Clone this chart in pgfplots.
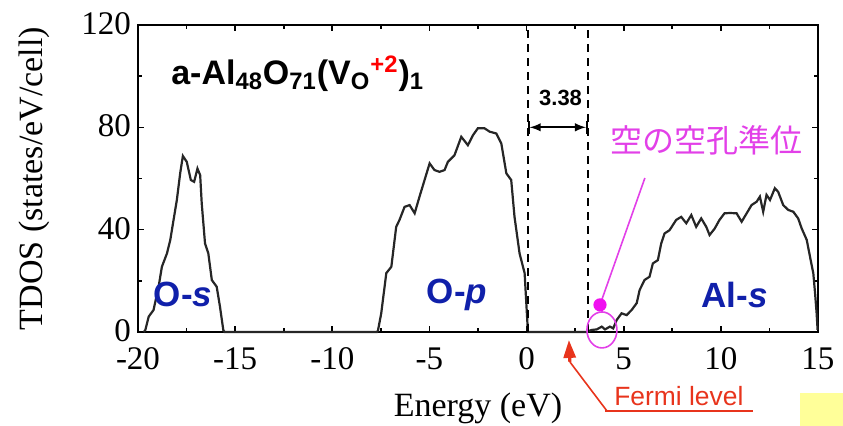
\documentclass[border=0pt]{standalone}
\usepackage{pgfplots}
\pgfplotsset{compat=1.18}
\usepackage{fontspec}
\setmainfont{Liberation Serif}
\setsansfont{Liberation Sans}
\newfontfamily\cjk{Noto Sans CJK JP}
\usetikzlibrary{arrows.meta}
\definecolor{lblblue}{RGB}{16,32,170}
\definecolor{pinkish}{RGB}{226,64,232}
\definecolor{dotpink}{RGB}{240,16,240}
\definecolor{fermired}{RGB}{232,52,28}
\definecolor{paleyellow}{RGB}{255,255,153}
\begin{document}
\begin{tikzpicture}
\useasboundingbox (0,0) rectangle (421.5pt,213pt);
\begin{axis}[
  at={(69pt,47pt)}, anchor=south west,
  scale only axis, width=340pt, height=153.5pt,
  xmin=-20, xmax=15, ymin=0, ymax=120,
  xtick={-20,-15,...,15}, ytick={0,40,80,120},
  minor x tick num=1, minor y tick num=1,
  major tick length=3pt, minor tick length=2pt,
  tick style={black, line width=0.8pt},
  axis line style={line width=1pt},
  clip=false,
  /pgf/number format/assume math mode=true,
  tick label style={font=\fontsize{16.5}{18}\selectfont},
  x tick label style={yshift=-4.2pt},
  y tick label style={yshift=0.6pt},
  xlabel={Energy (eV)}, ylabel={TDOS (states/eV/cell)},
  label style={font=\fontsize{17}{19}\selectfont},
  xlabel style={at={(axis description cs:0.5,-0.2476)}, anchor=center},
  ylabel style={at={(axis description cs:-0.153,0.5)}, anchor=center},
]
\fill[paleyellow] (axis cs:14.07,-23.8) rectangle (axis cs:16.8,-40);
\addplot[line width=1.1pt, color=black!85] coordinates {
(-19.7,0) (-19.62,0.8) (-19.45,6) (-19.2,8.6) (-18.94,17.7) (-18.77,25.5)
(-18.51,30.7) (-18.34,35.9) (-18.17,43.8) (-18.0,51.6) (-17.83,62) (-17.69,68.8)
(-17.49,66.5) (-17.28,59.4) (-17.11,58.7) (-16.94,63.9) (-16.8,61.3) (-16.72,50.3)
(-16.55,34.6) (-16.38,30.7) (-16.2,20.3) (-15.95,17.7) (-15.78,9.9) (-15.61,0.8)
(-15.55,0) (-7.7,0)
(-7.65,0.5) (-7.48,7.3) (-7.22,23) (-6.96,25.5) (-6.71,41.1) (-6.54,43.8)
(-6.28,48.9) (-6.02,49.6) (-5.76,46.4) (-5.51,52.9) (-5.25,59.4) (-4.99,65.9)
(-4.74,63.3) (-4.48,62.6) (-4.22,63.3) (-4.05,66.5) (-3.71,69.1) (-3.36,76.3)
(-3.02,73) (-2.76,76.9) (-2.51,79.6) (-2.16,79.6) (-1.9,78.3) (-1.56,77.6)
(-1.3,73.7) (-1.04,62) (-0.79,59.4) (-0.62,45) (-0.36,30.7) (-0.1,23) (0.07,0)
(3.05,0)
(3.09,0.1) (3.35,0.8) (3.61,1.0) (3.87,2.1) (4.04,1.0) (4.29,2.1) (4.46,1.4)
(4.64,4.7) (4.89,7.3) (5.15,6.6) (5.41,8.6) (5.67,11.3)
(5.82,16.4) (6.07,20.3) (6.33,21.6) (6.5,26.8) (6.76,28.1) (6.93,34.6)
(7.1,38.5) (7.36,39.8) (7.7,43.8) (7.96,45) (8.22,42.5) (8.48,45.7)
(8.73,41.1) (8.99,44.4) (9.25,41.1) (9.42,37.9) (9.68,40.4) (9.93,43.8)
(10.19,46.4) (10.47,46.5) (10.81,46.4) (11.07,43.1) (11.33,46.4) (11.58,49.6)
(11.84,50.9) (12.01,52.9) (12.18,47) (12.35,53.6) (12.53,51.6) (12.78,56.2)
(12.95,54.8) (13.21,49.6) (13.47,47.7) (13.73,47) (13.98,44.4) (14.16,40.5)
(14.42,36) (14.59,29.4) (14.76,22.9) (14.85,15.1) (14.93,7.3) (14.98,0.8)
};
% band gap markers
\draw[line width=1pt, dash pattern=on 4pt off 3pt] (axis cs:0.07,0) -- (axis cs:0.07,120);
\draw[line width=1pt, dash pattern=on 4pt off 3pt] (axis cs:3.15,0) -- (axis cs:3.15,120);
\draw[|<->|, line width=0.9pt, >=latex] (axis cs:0.07,80) -- (axis cs:3.15,80);
\node[font=\sffamily\bfseries\fontsize{11}{12}\selectfont] at (axis cs:1.75,91.5) {3.38};
% title
\node[anchor=west, font=\sffamily\bfseries\fontsize{17}{18}\selectfont] at (axis cs:-18.65,101)
  {a-Al\textsubscript{48}O\textsubscript{71}(V\textsubscript{O}\textsuperscript{\textcolor{red}{+2}})\textsubscript{1}};
% band labels
\node[text=lblblue, font=\sffamily\bfseries\fontsize{17.5}{18}\selectfont] at (axis cs:-17.68,14.5) {O-\textit{s}};
\node[text=lblblue, font=\sffamily\bfseries\fontsize{17.5}{18}\selectfont] at (axis cs:-3.58,14.5) {O-\textit{p}};
\node[text=lblblue, font=\sffamily\bfseries\fontsize{17.5}{18}\selectfont] at (axis cs:10.7,14.5) {Al-\textit{s}};
% empty vacancy level annotation
\draw[pinkish, line width=0.8pt] (axis cs:3.78,10.6) -- (axis cs:6.09,60.2);
\fill[dotpink] (axis cs:3.78,10.6) circle[radius=3.3pt];
\draw[pinkish, line width=0.8pt] (axis cs:3.88,0.8) ellipse [x radius=7.5pt, y radius=9pt];
\node[text=pinkish, font=\cjk\fontsize{16}{17}\selectfont] at (axis cs:9.28,75.1) {空の空孔準位};
% Fermi level annotation
\draw[fermired, line width=0.8pt] (axis cs:4.14,-30.9) -- (axis cs:2.23,-11.7);
\draw[fermired, line width=1.6pt, -{Triangle[length=9pt,width=6pt]}] (axis cs:2.23,-11.7) -- (axis cs:2.18,-3.1);
\node[text=fermired, font=\sffamily\fontsize{13.2}{15}\selectfont] at (axis cs:7.84,-25.2) {Fermi level};
\draw[fermired, line width=0.8pt] (axis cs:4.03,-30.9) -- (axis cs:11.65,-30.9);
\end{axis}
\end{tikzpicture}
\end{document}
